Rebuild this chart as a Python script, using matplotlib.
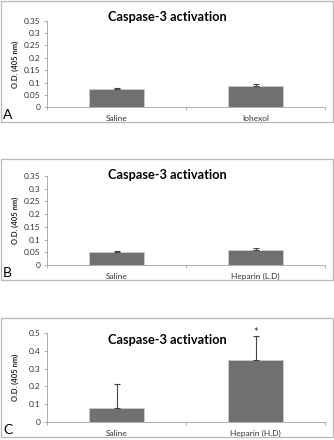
import numpy as np
import matplotlib
matplotlib.use("Agg")
import matplotlib.pyplot as plt
from matplotlib.patches import Rectangle

W, H = 334, 440
TITLE = "Caspase-3 activation"
YLABEL = "O.D. (405 nm)"
BAR_COLOR = "#707070"

# panel data
a_cats = ["Saline", "Iohexol"]
a_vals = [0.075, 0.087]
a_errs = [0.005, 0.006]
a_ticks = [0, 0.05, 0.1, 0.15, 0.2, 0.25, 0.3, 0.35]

b_cats = ["Saline", "Heparin (L.D)"]
b_vals = [0.050, 0.060]
b_errs = [0.005, 0.005]
b_ticks = [0, 0.05, 0.1, 0.15, 0.2, 0.25, 0.3, 0.35]

c_cats = ["Saline", "Heparin (H.D)"]
c_vals = [0.080, 0.350]
c_errs = [0.135, 0.135]
c_ticks = [0, 0.1, 0.2, 0.3, 0.4, 0.5]
c_star = 0.505

plt.rcParams["font.family"] = ["Lato", "DejaVu Sans"]

fig = plt.figure(figsize=(W / 100, H / 100), dpi=100)


def fx(px):
    return px / W


def fy(py):
    return 1 - py / H


def tick_fmt(v):
    return "0" if v == 0 else f"{v:g}"


def panel(cats, vals, errs, ticks, letter, box, ax_top, ax_bot, title_y, star=None):
    # grey frame round the panel
    fig.patches.append(Rectangle((fx(1), fy(box[1])), fx(332), box[1] / H - box[0] / H,
                                 transform=fig.transFigure, fill=False,
                                 edgecolor="#b8b8b8", lw=0.9))
    ax = fig.add_axes([fx(47), fy(ax_bot), fx(325 - 47), (ax_bot - ax_top) / H])
    x = np.arange(len(cats))
    ax.bar(x, vals, width=0.4, color=BAR_COLOR, edgecolor="#d0d0d0", lw=0.5, zorder=2)
    ax.errorbar(x, vals, yerr=[np.zeros(len(errs)), errs], fmt="none",
                ecolor="#444444", elinewidth=0.8, capsize=2, capthick=0.8, zorder=3)
    ax.set_xlim(-0.5, len(cats) - 0.5)
    ax.set_ylim(0, ticks[-1])
    ax.set_yticks(ticks)
    ax.set_yticklabels([tick_fmt(t) for t in ticks])
    ax.set_xticks(np.arange(len(cats) + 1) - 0.5)
    ax.set_xticklabels([])
    ax.set_xticks(x, minor=True)
    ax.set_xticklabels(cats, minor=True)
    ax.tick_params(axis="x", which="major", length=2.5, color="#a0a0a0", width=0.6)
    ax.tick_params(axis="x", which="minor", length=0, pad=5.5, labelsize=6, labelcolor="#333333")
    ax.tick_params(axis="y", length=2.5, color="#a0a0a0", width=0.6, pad=2,
                   labelsize=6, labelcolor="#333333")
    for s in ["top", "right"]:
        ax.spines[s].set_visible(False)
    for s in ["left", "bottom"]:
        ax.spines[s].set_color("#a0a0a0")
        ax.spines[s].set_linewidth(0.6)
    if star is not None:
        ax.text(1, star, "*", ha="center", va="center", fontsize=8, color="#333333")
    fig.text(fx(167), fy(title_y), TITLE, ha="center", va="center",
             fontsize=9.2, fontweight="bold", color="black")
    fig.text(fx(15), fy((ax_top + ax_bot) / 2), YLABEL, rotation=90, ha="center",
             va="center", fontsize=5.5, fontweight="bold", color="#222222")
    fig.text(fx(3), fy(box[1] - 3), letter, ha="left", va="baseline",
             fontsize=10, color="black")
    return ax


panel(a_cats, a_vals, a_errs, a_ticks, "A", (1, 122), 20.7, 107.3, 17)
panel(b_cats, b_vals, b_errs, b_ticks, "B", (159, 280), 176, 265, 175)
panel(c_cats, c_vals, c_errs, c_ticks, "C", (318, 437), 333, 422, 340, star=c_star)

fig.savefig("out.png", dpi=100)
